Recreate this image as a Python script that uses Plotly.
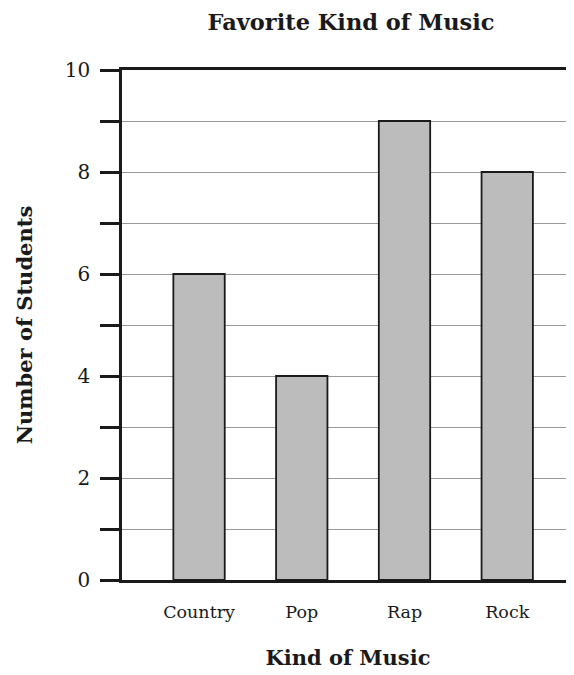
import plotly.graph_objects as go

categories = ["Country", "Pop", "Rap", "Rock"]
students = [6, 4, 9, 8]
y_tickvals = [0, 1, 2, 3, 4, 5, 6, 7, 8, 9, 10]
y_ticktext = ["0", "", "2", "", "4", "", "6", "", "8", "", "10"]

FONT = "DejaVu Serif"
# the page body has an 8px margin, so the figure is sized to fit inside it
W, H = 566, 667

fig = go.Figure(
    go.Bar(
        x=categories,
        y=students,
        width=0.5,
        marker=dict(color="#bcbcbc", line=dict(color="#1a1a1a", width=1.8)),
    )
)

fig.update_layout(
    width=W,
    height=H,
    margin=dict(l=114, r=0, t=62, b=95),
    plot_bgcolor="white",
    paper_bgcolor="white",
    showlegend=False,
    font=dict(family=FONT, color="#1a1a1a"),
    title=dict(
        text="<b>Favorite Kind of Music</b>",
        x=343 / W,
        xanchor="center",
        y=1 - 14 / H,
        yanchor="middle",
        font=dict(family=FONT, size=22.5, color="#1a1a1a"),
    ),
)

fig.update_xaxes(
    range=[-0.75, 3.65],
    showline=True,
    linecolor="#1a1a1a",
    linewidth=2.5,
    mirror=True,
    ticks="",
    showgrid=False,
    tickfont=dict(family=FONT, size=17.5),
    ticklabelstandoff=14,
    title=dict(text="<b>Kind of Music</b>", font=dict(family=FONT, size=21), standoff=30),
)

fig.update_yaxes(
    range=[0, 10],
    tickvals=y_tickvals,
    ticktext=y_ticktext,
    ticks="outside",
    ticklen=19,
    tickwidth=2.5,
    tickcolor="#1a1a1a",
    showline=True,
    linecolor="#1a1a1a",
    linewidth=2.5,
    showgrid=True,
    gridcolor="#999999",
    gridwidth=1,
    zeroline=False,
    tickfont=dict(family=FONT, size=20),
    ticklabelstandoff=6,
    title=dict(text="<b>Number of Students</b>", font=dict(family=FONT, size=21), standoff=27),
)

fig.write_html("out.html")
